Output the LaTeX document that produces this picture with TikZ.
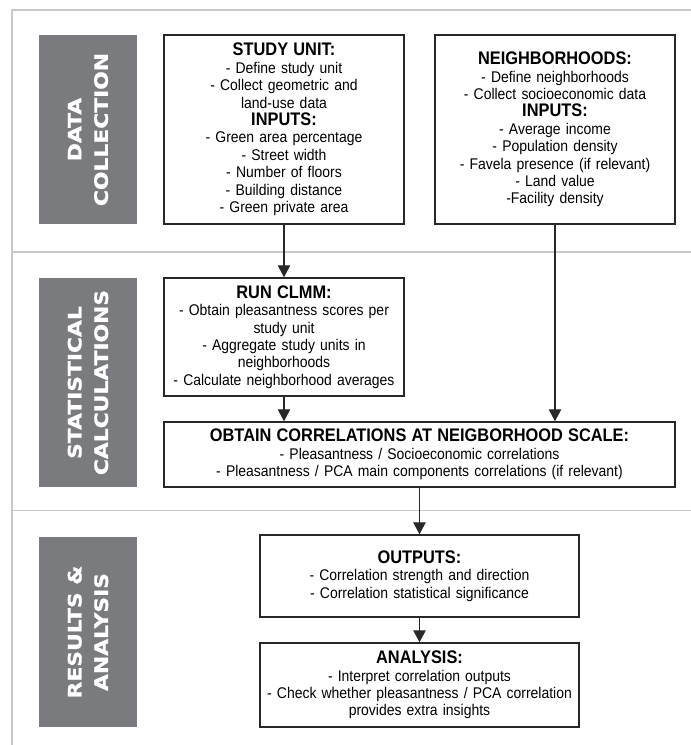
\documentclass[tikz,border=0pt]{standalone}
\usepackage{fontspec}
\setmainfont[FakeStretch=0.9]{Liberation Sans}
\newfontfamily\tagfont[FakeStretch=1.18,FakeBold=1.2]{DejaVu Sans Bold}
\usetikzlibrary{arrows.meta}
\definecolor{tagback}{RGB}{121,123,126}
\definecolor{rulegray}{RGB}{200,200,200}
\definecolor{ink}{RGB}{40,40,40}
\newcommand{\hd}[1]{{\fontsize{18.2}{17.4}\selectfont\bfseries #1}}

\begin{document}
\begin{tikzpicture}[x=1pt,y=-1pt,
	stage/.style={fill=tagback,text=white,rotate=90,minimum height=98pt,inner sep=0pt,align=center,
		font=\tagfont\fontsize{18.5}{26.5}\selectfont},
	task/.style={draw=ink,line width=1.5pt,align=center,inner sep=0pt,
		font=\fontsize{15.5}{17.4}\selectfont},
	flow/.style={ink,line width=1.2pt,-{Triangle[length=12pt,width=12.5pt]}},
	frame/.style={rulegray,line width=1.6pt}]
		\useasboundingbox (0,0) rectangle (691,745);
		%frame and the two separators
		\draw [frame] (12,745) -- (12,10) -- (691,10);
		\foreach \y in {252,510.5}
			\draw [frame] (12,\y) -- (691,\y);
		%stage labels
		\node [stage,minimum width=189pt] (coll) at (88,129.5) {DATA\\COLLECTION};
		\node [stage,minimum width=209pt] (calc) at (88,382.5) {STATISTICAL\\CALCULATIONS};
		\node [stage,minimum width=190pt] (res) at (88,632) {RESULTS \&\\ANALYSIS};
		%boxes
		\node [task,text width=240pt,minimum height=189pt] (unit) at (284,129.5)
			{\hd{STUDY UNIT:}\\- Define study unit\\- Collect geometric and\\land-use data\\
			\hd{INPUTS:}\\- Green area percentage\\- Street width\\- Number of floors\\
			- Building distance\\- Green private area};
		\node [task,text width=240pt,minimum height=189pt] (hood) at (555,129.5)
			{\hd{NEIGHBORHOODS:}\\- Define neighborhoods\\- Collect socioeconomic data\\
			\hd{INPUTS:}\\- Average income\\- Population density\\- Favela presence (if relevant)\\
			- Land value\\-Facility density};
		\node [task,text width=240pt,minimum height=118pt] (clmm) at (284,337)
			{\hd{RUN CLMM:}\\- Obtain pleasantness scores per\\study unit\\- Aggregate study units in\\
			neighborhoods\\- Calculate neighborhood averages};
		\node [task,text width=511pt,minimum height=65pt] (corr) at (419.5,454.5)
			{\hd{OBTAIN CORRELATIONS AT NEIGBORHOOD SCALE:}\\- Pleasantness / Socioeconomic correlations\\
			- Pleasantness / PCA main components correlations (if relevant)};
		\node [task,text width=319pt,minimum height=82pt] (out) at (419.5,576)
			{\hd{OUTPUTS:}\\- Correlation strength and direction\\- Correlation statistical significance};
		\node [task,text width=319pt,minimum height=84pt] (ana) at (419.5,685)
			{\hd{ANALYSIS:}\\- Interpret correlation outputs\\- Check whether pleasantness / PCA correlation\\
			provides extra insights};
		%arrows
		\draw [flow] (unit) -- (clmm);
		\draw [flow] (hood) -- (hood.south |- corr.north);
		\draw [flow] (clmm) -- (clmm.south |- corr.north);
		\draw [flow] (corr) -- (out);
		\draw [flow] (out) -- (ana);
		\end{tikzpicture}
\end{document}
